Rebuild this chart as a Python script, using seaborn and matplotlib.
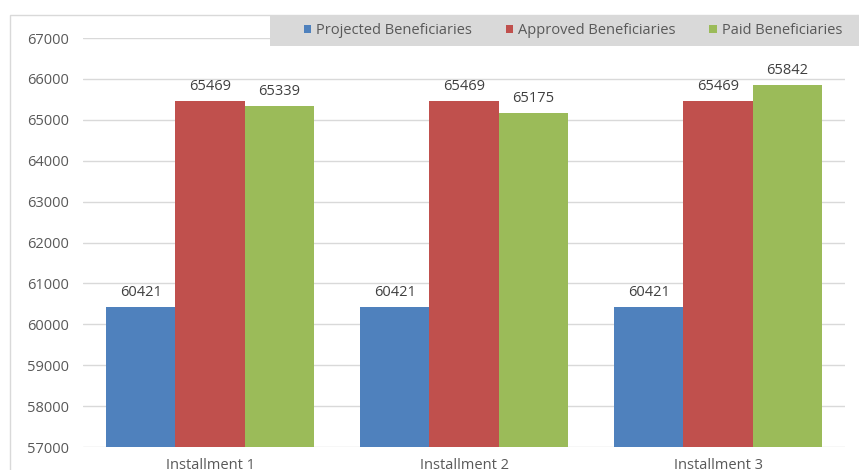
import matplotlib
matplotlib.use("Agg")
import matplotlib.pyplot as plt
from matplotlib.patches import Rectangle, Patch
import seaborn as sns
import pandas as pd

categories = ["Installment 1", "Installment 2", "Installment 3"]
series_names = ["Projected Beneficiaries", "Approved Beneficiaries", "Paid Beneficiaries"]
projected = [60421, 60421, 60421]
approved = [65469, 65469, 65469]
paid = [65339, 65175, 65842]
y_ticks = [57000, 58000, 59000, 60000, 61000, 62000, 63000, 64000, 65000, 66000, 67000]

colors = ["#4f81bd", "#c0504d", "#9bbb59"]
text_color = "#595959"
FS = 10.5

rows = []
for name, values in zip(series_names, [projected, approved, paid]):
    for cat, v in zip(categories, values):
        rows.append({"Installment": cat, "Series": name, "Beneficiaries": v})
df = pd.DataFrame(rows)

sns.set_theme(style="white")
plt.rcParams["font.family"] = ["Open Sans", "DejaVu Sans"]

W, H = 859, 470
fig = plt.figure(figsize=(W / 100, H / 100), dpi=100)
ax = fig.add_axes([83 / W, 1 - 447 / H, (845 - 83) / W, (447 - 38) / H])

sns.barplot(data=df, x="Installment", y="Beneficiaries", hue="Series",
            hue_order=series_names, palette=colors, width=0.82,
            saturation=1, ax=ax, legend=False, edgecolor="none", linewidth=0)

ax.set_ylim(y_ticks[0], y_ticks[-1])
ax.set_yticks(y_ticks)
ax.set_yticklabels([str(t) for t in y_ticks])
ax.set_xlim(-0.5, len(categories) - 0.5)
ax.yaxis.grid(True, color="#d9d9d9", linewidth=1)
ax.set_axisbelow(True)
for s in ax.spines.values():
    s.set_visible(False)
ax.tick_params(axis="both", length=0, colors=text_color, labelsize=FS)
ax.tick_params(axis="y", pad=10)
ax.tick_params(axis="x", pad=8)
ax.set_xlabel("")
ax.set_ylabel("")

# value labels above each bar
for container in ax.containers:
    ax.bar_label(container, labels=[str(int(v)) for v in container.datavalues],
                 padding=5, fontsize=FS, color="#404040")

# chart outer border
fig.patches.append(Rectangle((10 / W, -0.1), 1.2, 1 - 15 / H + 0.1,
                             transform=fig.transFigure, fill=False,
                             edgecolor="#d9d9d9", linewidth=1, zorder=0))

# legend band across the top
fig.patches.append(Rectangle((270 / W, 1 - 46 / H), 1.0, 31 / H,
                             transform=fig.transFigure, facecolor="#d9d9d9",
                             edgecolor="none", zorder=3))
handles = [Patch(facecolor=c, edgecolor="none") for c in colors]
leg = fig.legend(handles, series_names, loc="center",
                 bbox_to_anchor=(573 / W, 1 - 31 / H),
                 ncol=3, frameon=False,
                 fontsize=FS, handlelength=0.5, handleheight=0.5,
                 handletextpad=0.35, borderpad=0, borderaxespad=0,
                 columnspacing=2.3, labelcolor=text_color)
leg.set_zorder(4)

fig.savefig("out.png", dpi=100)
